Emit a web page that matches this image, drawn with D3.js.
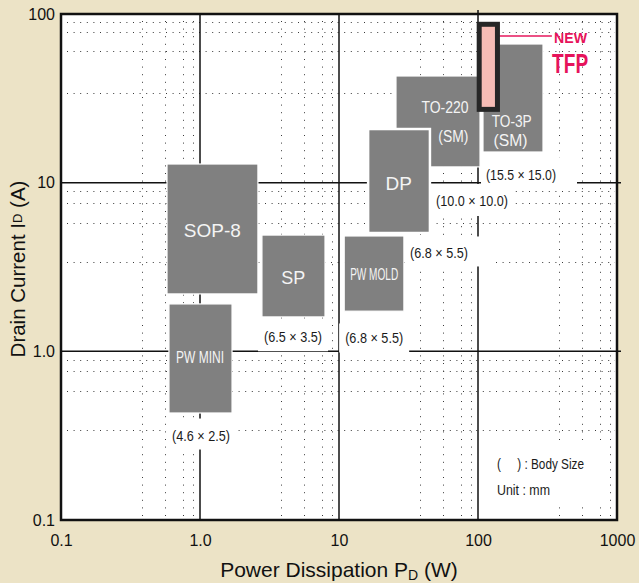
<!DOCTYPE html>
<html><head><meta charset="utf-8">
<script src="https://cdn.jsdelivr.net/npm/d3@7"></script>
<style>
html,body{margin:0;padding:0;background:#ece3c6;}
svg{display:block;}
text{font-family:"Liberation Sans",Arial,Helvetica,sans-serif;}
</style></head><body>
<svg id="chart" width="639" height="583"></svg>
<script>
// ---------- data ----------
const xTickValues = [0.1, 1, 10, 100, 1000];
const xTickLabels = ["0.1", "1.0", "10", "100", "1000"];
const yTickValues = [0.1, 1, 10, 100];
const yTickLabels = ["0.1", "1.0", "10", "100"];
const xMajorGrid = [1, 10, 100];
const yMajorGrid = [1, 10];
const xMinorGrid = [0.38, 0.56, 0.75, 0.89, 3.8, 5.6, 7.5, 8.9, 38, 56, 75, 89, 380, 560, 750, 890];
const yMinorGrid = [0.34, 0.58, 0.76, 0.89, 3.4, 5.8, 7.6, 8.9, 34, 60, 78, 90];

const packageNames = ["TO-220", "TO-3P", "DP", "SOP-8", "SP", "PW MINI", "PW MOLD"];
const powerMin   = [25.7, 108.6, 16.2, 0.579, 2.79, 0.598, 10.9];
const powerMax   = [103.4, 293.5, 45.1, 2.61, 7.93, 1.70, 29.3];
const currentMin = [12.4, 15.2, 5.03, 2.19, 1.60, 0.431, 1.73];
const currentMax = [42.9, 66.4, 20.8, 12.9, 4.89, 1.91, 4.83];

const tfpPower = [102, 138];
const tfpCurrent = [27.2, 86.9];
const tfpLeaderPower = [138, 340];
const tfpLeaderCurrent = 74.1;
const tfpText = ["NEW", "TFP"];
const tfpTextPower = [463, 460];
const tfpTextCurrent = [72.5, 51.2];

const boxLabelText    = ["SOP-8", "SP", "PW MINI", "PW MOLD", "DP", "TO-220", "(SM)", "TO-3P", "(SM)"];
const boxLabelPower   = [1.226, 4.68, 1.0, 17.9, 26.9, 57.9, 66.4, 174.8, 171.3];
const boxLabelCurrent = [5.24, 2.72, 0.92, 2.87, 9.95, 27.9, 18.8, 22.9, 17.8];

const sizeLabelText    = ["(4.6 \u00d7 2.5)", "(6.5 \u00d7 3.5)", "(6.8 \u00d7 5.5)", "(6.8 \u00d7 5.5)", "(10.0 \u00d7 10.0)", "(15.5 \u00d7 15.0)"];
const sizeLabelPower   = [1.017, 4.67, 17.9, 52.4, 90.5, 203.9];
const sizeLabelCurrent = [0.319, 1.22, 1.20, 3.83, 7.84, 11.2];

const noteText    = ["(\u00a0\u00a0\u00a0\u00a0\u00a0) : Body Size", "Unit : mm"];
const notePower   = 137;
const noteCurrent = [0.215, 0.151];

// ---------- styles ----------
const boxLabelStyle = [
  {size: 19}, {size: 18}, {size: 16, w: 48}, {size: 16, w: 48}, {size: 19},
  {size: 16, w: 47}, {size: 16, w: 30}, {size: 16, w: 40}, {size: 16, w: 34}
];
const sizeLabelWidth = [58, 58, 58, 58, 72, 70];
const sizeLabelPad = [
  {l: 6, r: 6, t: 8, b: 6}, {l: 6, r: 6, t: 6, b: 6}, {l: 6, r: 6, t: 6, b: 6},
  {l: 5, r: 24, t: 8, b: 5}, {l: 6, r: 6, t: 8, b: 7}, {l: 5, r: 21, t: 8, b: 8}
];
const noteWidth = [87, 53];

const svg = d3.select("#chart");
const x = d3.scaleLog().domain([0.1, 1000]).range([61, 617]);
const y = d3.scaleLog().domain([0.1, 100]).range([520, 14]);
const narrow = '"Liberation Sans Narrow","Arial Narrow","Liberation Sans",Arial,sans-serif';
const px = v => Math.round(x(v)) + 0.5;
const py = v => Math.round(y(v)) + 0.5;

// plot background
svg.append("rect").attr("x", x(0.1)).attr("y", y(100))
  .attr("width", x(1000) - x(0.1)).attr("height", y(0.1) - y(100)).attr("fill", "#fff");

const gridLayer = svg.append("g");
const bgLayer = svg.append("g");
const boxLayer = svg.append("g");
const textLayer = svg.append("g");
const frameLayer = svg.append("g");

// minor dotted grid
gridLayer.selectAll("line.vminor").data(xMinorGrid).join("line")
  .attr("x1", d => px(d)).attr("x2", d => px(d))
  .attr("y1", y(100) + 7).attr("y2", y(0.1) - 2)
  .attr("stroke", "#3a3a3a").attr("stroke-width", 1).attr("stroke-dasharray", "1,6.6");
gridLayer.selectAll("line.hminor").data(yMinorGrid).join("line")
  .attr("y1", d => py(d)).attr("y2", d => py(d))
  .attr("x1", x(0.1) + 6).attr("x2", x(1000) - 2)
  .attr("stroke", "#3a3a3a").attr("stroke-width", 1).attr("stroke-dasharray", "1,5.6");

// major grid
gridLayer.selectAll("line.vmajor").data(xMajorGrid).join("line")
  .attr("x1", d => x(d)).attr("x2", d => x(d))
  .attr("y1", d => d === 100 ? y(100) - 4 : y(100)).attr("y2", y(0.1))
  .attr("stroke", "#111").attr("stroke-width", 1.5);
gridLayer.selectAll("line.hmajor").data(yMajorGrid).join("line")
  .attr("y1", d => y(d)).attr("y2", d => y(d))
  .attr("x1", x(0.1)).attr("x2", x(1000) + 4)
  .attr("stroke", "#111").attr("stroke-width", 1.5);

// package boxes
boxLayer.selectAll("rect.pkg").data(packageNames).join("rect")
  .attr("x", (d, i) => x(powerMin[i]))
  .attr("y", (d, i) => y(currentMax[i]))
  .attr("width", (d, i) => x(powerMax[i]) - x(powerMin[i]))
  .attr("height", (d, i) => y(currentMin[i]) - y(currentMax[i]))
  .attr("fill", "#808080")
  .attr("stroke", "#fff")
  .attr("stroke-width", d => d === "DP" ? 2.5 : 1.2);

// TFP leader + box
boxLayer.append("line")
  .attr("x1", x(tfpLeaderPower[0])).attr("x2", x(tfpLeaderPower[1]))
  .attr("y1", y(tfpLeaderCurrent)).attr("y2", y(tfpLeaderCurrent))
  .attr("stroke", "#e6175c").attr("stroke-width", 1.6);
boxLayer.append("rect")
  .attr("x", x(tfpPower[0])).attr("y", y(tfpCurrent[1]))
  .attr("width", x(tfpPower[1]) - x(tfpPower[0]))
  .attr("height", y(tfpCurrent[0]) - y(tfpCurrent[1]))
  .attr("fill", "#f6bcb5").attr("stroke", "#262626").attr("stroke-width", 5);

textLayer.selectAll("text.tfp").data(tfpText).join("text")
  .attr("x", (d, i) => x(tfpTextPower[i])).attr("y", (d, i) => y(tfpTextCurrent[i]))
  .attr("text-anchor", "middle").attr("dominant-baseline", "central")
  .style("font-family", narrow).style("font-weight", "bold")
  .style("font-size", (d, i) => i === 0 ? "15px" : "28px")
  .attr("textLength", (d, i) => i === 0 ? 33 : 36).attr("lengthAdjust", "spacingAndGlyphs")
  .attr("fill", "#e6135b").text(d => d);

// labels inside boxes
textLayer.selectAll("text.box").data(boxLabelText).join("text")
  .attr("x", (d, i) => x(boxLabelPower[i])).attr("y", (d, i) => y(boxLabelCurrent[i]))
  .attr("text-anchor", "middle").attr("dominant-baseline", "central")
  .attr("fill", "#f4f4f4")
  .style("font-size", (d, i) => boxLabelStyle[i].size + "px")
  .style("font-family", (d, i) => boxLabelStyle[i].w ? narrow : null)
  .each(function (d, i) {
    if (boxLabelStyle[i].w) d3.select(this).attr("textLength", boxLabelStyle[i].w).attr("lengthAdjust", "spacingAndGlyphs");
  })
  .text(d => d);

// size labels with white backgrounds
const sizeTexts = textLayer.selectAll("text.size").data(sizeLabelText).join("text")
  .attr("x", (d, i) => x(sizeLabelPower[i])).attr("y", (d, i) => y(sizeLabelCurrent[i]))
  .attr("text-anchor", "middle").attr("dominant-baseline", "central")
  .attr("fill", "#1a1a1a")
  .style("font-family", narrow).style("font-size", "15px")
  .attr("textLength", (d, i) => sizeLabelWidth[i]).attr("lengthAdjust", "spacingAndGlyphs")
  .text(d => d);
sizeTexts.each(function (d, i) {
  const b = this.getBBox(), p = sizeLabelPad[i];
  bgLayer.append("rect")
    .attr("x", b.x - p.l).attr("y", b.y - p.t)
    .attr("width", b.width + p.l + p.r).attr("height", b.height + p.t + p.b)
    .attr("fill", "#fff");
});

// note
const notes = textLayer.selectAll("text.note").data(noteText).join("text")
  .attr("x", x(notePower)).attr("y", (d, i) => y(noteCurrent[i]))
  .attr("dominant-baseline", "central")
  .attr("fill", "#1a1a1a")
  .style("font-family", narrow).style("font-size", "14px")
  .attr("textLength", (d, i) => noteWidth[i]).attr("lengthAdjust", "spacingAndGlyphs")
  .text(d => d);
{
  const b0 = notes.nodes()[0].getBBox(), b1 = notes.nodes()[1].getBBox();
  bgLayer.append("rect").attr("x", b0.x - 6).attr("y", b0.y - 10)
    .attr("width", b0.width + 26).attr("height", b1.y + b1.height - b0.y + 16).attr("fill", "#fff");
}

// frame
frameLayer.append("rect").attr("x", x(0.1)).attr("y", y(100))
  .attr("width", x(1000) - x(0.1)).attr("height", y(0.1) - y(100))
  .attr("fill", "none").attr("stroke", "#111").attr("stroke-width", 2.5);

// axes
const xAxis = frameLayer.append("g").attr("transform", `translate(0,${y(0.1)})`)
  .call(d3.axisBottom(x).tickValues(xTickValues).tickFormat((d, i) => xTickLabels[i]).tickSize(0).tickPadding(15));
const yAxis = frameLayer.append("g").attr("transform", `translate(${x(0.1)},0)`)
  .call(d3.axisLeft(y).tickValues(yTickValues).tickFormat((d, i) => yTickLabels[i]).tickSize(0).tickPadding(6));
[xAxis, yAxis].forEach(g => {
  g.select(".domain").remove();
  g.selectAll("text").style("font-family", '"Liberation Sans",Arial,sans-serif')
    .style("font-size", "16px").attr("fill", "#111");
});

// axis titles
const xt = frameLayer.append("text").attr("x", 339).attr("y", 577)
  .attr("text-anchor", "middle").attr("fill", "#111").style("font-size", "21px");
xt.append("tspan").text("Power Dissipation P");
xt.append("tspan").attr("dy", 3).style("font-size", "14px").text("D");
xt.append("tspan").attr("dy", -3).text(" (W)");

const yt = frameLayer.append("text").attr("transform", "translate(25,269) rotate(-90)")
  .attr("text-anchor", "middle").attr("fill", "#111").style("font-size", "20.5px");
yt.append("tspan").text("Drain Current I");
yt.append("tspan").attr("dy", -3).style("font-size", "13px").text("D");
yt.append("tspan").attr("dy", 3).text(" (A)");
</script>
</body></html>
